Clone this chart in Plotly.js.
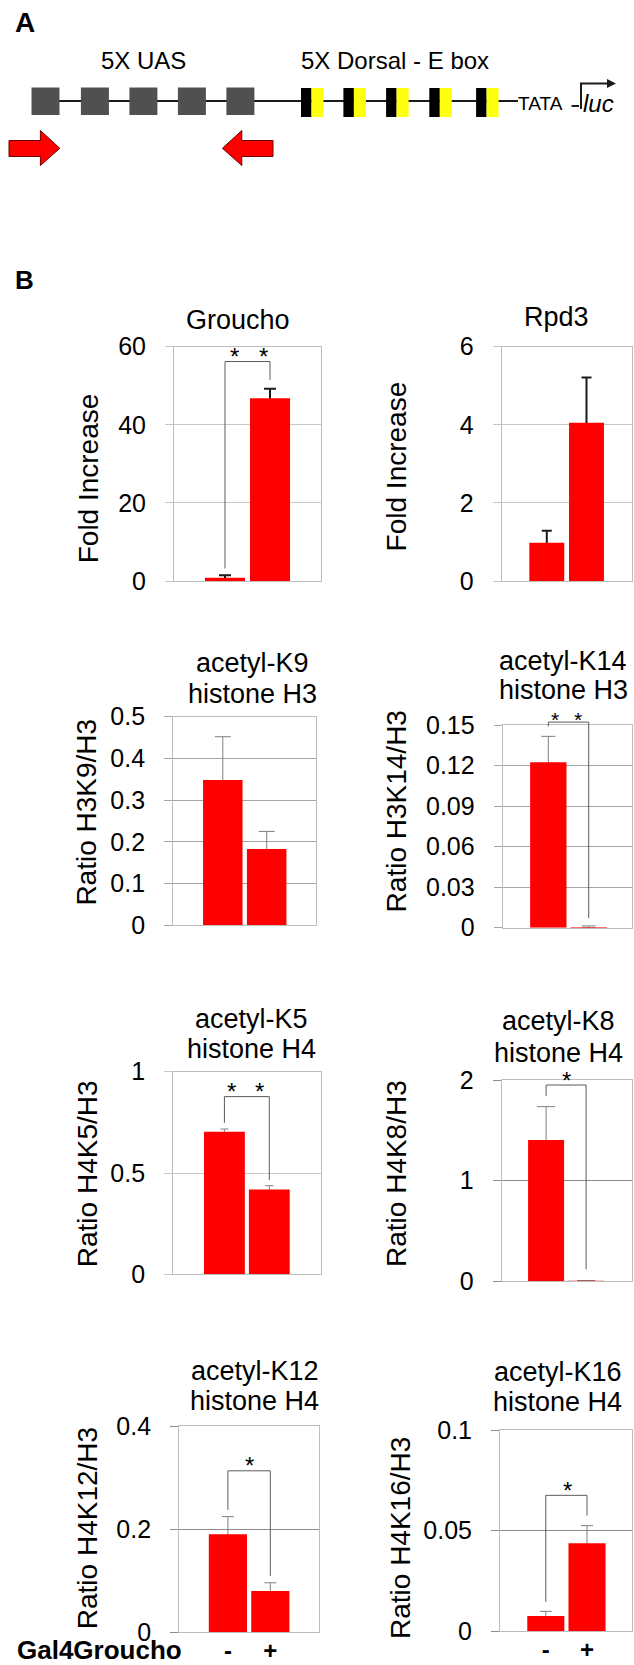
<!DOCTYPE html>
<html>
<head>
<meta charset="utf-8">
<script src="https://cdn.plot.ly/plotly-3.0.1.min.js"></script>
<style>
  html, body { margin: 0; padding: 0; background: #ffffff; }
  #chart { width: 634px; height: 1665px; }
</style>
</head>
<body>
<div id="chart"></div>
<script>
// ------------------------------------------------------------------
// DATA
// ------------------------------------------------------------------
const conditions = ['-', '+'];           // Gal4Groucho absent / present
const xAxisLabel = 'Gal4Groucho';

const chartTitles = [
  'Groucho',
  'Rpd3',
  'acetyl-K9<br>histone H3',
  'acetyl-K14<br>histone H3',
  'acetyl-K5<br>histone H4',
  'acetyl-K8<br>histone H4',
  'acetyl-K12<br>histone H4',
  'acetyl-K16<br>histone H4'
];
const yTitles = [
  'Fold Increase', 'Fold Increase',
  'Ratio H3K9/H3', 'Ratio H3K14/H3',
  'Ratio H4K5/H3', 'Ratio H4K8/H3',
  'Ratio H4K12/H3', 'Ratio H4K16/H3'
];

const grouchoValues = [0.85, 46.8];     const grouchoErrors = [0.65, 2.4];
const rpd3Values    = [0.98, 4.05];     const rpd3Errors    = [0.31, 1.16];
const h3k9Values    = [0.348, 0.183];   const h3k9Errors    = [0.104, 0.042];
const h3k14Values   = [0.1224, 0.0006]; const h3k14Errors   = [0.0192, 0.0007];
const h4k5Values    = [0.704, 0.419];   const h4k5Errors    = [0.013, 0.0185];
const h4k8Values    = [1.403, 0.003];   const h4k8Errors    = [0.332, 0.002];
const h4k12Values   = [0.190, 0.0796];  const h4k12Errors   = [0.034, 0.016];
const h4k16Values   = [0.0075, 0.0437]; const h4k16Errors   = [0.0023, 0.0088];

const seriesValues = [grouchoValues, rpd3Values, h3k9Values, h3k14Values,
                      h4k5Values, h4k8Values, h4k12Values, h4k16Values];
const seriesErrors = [grouchoErrors, rpd3Errors, h3k9Errors, h3k14Errors,
                      h4k5Errors, h4k8Errors, h4k12Errors, h4k16Errors];

const yMax  = [60, 6, 0.5, 0.15, 1, 2, 0.4, 0.1];
const yStep = [20, 2, 0.1, 0.03, 0.5, 1, 0.2, 0.05];

// significance mark (number of asterisks) per chart
const significanceStars = [2, 0, 0, 2, 2, 1, 1, 1];

// ------------------------------------------------------------------
// LAYOUT / STYLE (pixel geometry of the figure, not data)
// ------------------------------------------------------------------
const W = 634, H = 1665;
const FONT = 'Arial, "Liberation Sans", Helvetica, sans-serif';
const fx = x => x / W;
const fy = y => 1 - y / H;

const panels = [
  {l:174,   r:321,   t:346.7,  b:581,    tx:238,   ty:[320],           yt:[88.3,478],    xr:[-1.133,2.133], bw:0.89, grid:'#c8c8c8', err:'#1a1a1a', et:2, cap:6},
  {l:501.7, r:631.7, t:346.7,  b:581,    tx:556,   ty:[317],           yt:[396.7,466.7], xr:[-1.136,2.139], bw:0.88, grid:'#c8c8c8', err:'#1a1a1a', et:2, cap:5},
  {l:173.1, r:316.2, t:716.7,  b:925.3,  tx:252.7, ty:[662.5,694],     yt:[86.9,811.7],  xr:[-1.132,2.128], bw:0.9,  grid:'#a6a6a6', err:'#7f7f7f', et:1, cap:8},
  {l:502.7, r:631.7, t:725,    b:927.7,  tx:563.3, ty:[661.5,689.5],   yt:[396.7,811.7], xr:[-1.129,2.064], bw:0.9,  grid:'#a6a6a6', err:'#7f7f7f', et:1, cap:7},
  {l:173.1, r:320.7, t:1071.7, b:1274.3, tx:251.5, ty:[1018.5,1049],   yt:[86.9,1173.3], xr:[-1.143,2.145], bw:0.91, grid:'#c8c8c8', err:'#7f7f7f', et:1, cap:4},
  {l:501.7, r:631.7, t:1080,   b:1281,   tx:558.3, ty:[1020.5,1053],   yt:[396.7,1173.3],xr:[-1.11,2.14],   bw:0.9,  grid:'#8c8c8c', err:'#7f7f7f', et:1, cap:9},
  {l:179.1, r:319.4, t:1426,   b:1632,   tx:254.7, ty:[1370.5,1400.5], yt:[86.9,1528.3], xr:[-1.151,2.158], bw:0.9,  grid:'#8c8c8c', err:'#7f7f7f', et:1, cap:6},
  {l:500,   r:631.7, t:1430.3, b:1631,   tx:557.7, ty:[1372,1402],     yt:[400,1538],    xr:[-1.112,2.085], bw:0.9,  grid:'#8c8c8c', err:'#7f7f7f', et:1, cap:6}
];
const FRAME = '#bdbdbd';

// significance bracket geometry (left leg bottom, top, right leg bottom; asterisk x positions)
const brackets = {
  0: {yl:3.2,    yt:56.2,   yr:51.5,   sx:[0.22, 0.85], shift:0, ss:24, so:5},
  3: {yl:0.1468, yt:0.1499, yr:0.0049, sx:[0.17, 0.74], shift:3, ss:21, so:3},
  4: {yl:0.748,  yt:0.877,  yr:0.465,  sx:[0.16, 0.79], shift:0, ss:24, so:5},
  5: {yl:1.84,   yt:1.95,   yr:0.116,  sx:[0.5],        shift:0, ss:24, so:5},
  6: {yl:0.237,  yt:0.313,  yr:0.109,  sx:[0.5],        shift:0, ss:24, so:5},
  7: {yl:0.0146, yt:0.0676, yr:0.0575, sx:[0.53],       shift:0, ss:24, so:5}
};

const traces = [];
const annotations = [];
const shapes = [];
const layout = {
  width: W, height: H,
  margin: {l:0, r:0, t:0, b:0},
  paper_bgcolor: '#ffffff',
  plot_bgcolor: 'rgba(0,0,0,0)',
  showlegend: false,
  barmode: 'overlay',
  font: {family: FONT, color: '#000000'},
  annotations: annotations,
  shapes: shapes
};

function textAnn(txt, x, y, size, extra) {
  return Object.assign({
    xref: 'paper', yref: 'paper', x: fx(x), y: fy(y),
    text: txt, showarrow: false, xanchor: 'center', yanchor: 'middle',
    font: {family: FONT, size: size, color: '#000000'}
  }, extra || {});
}

panels.forEach((p, i) => {
  const sfx = i === 0 ? '' : String(i + 1);
  const xa = 'x' + sfx, ya = 'y' + sfx;
  const bottomRow = i >= 6;

  // error bars (upper half visible; lower half hidden behind the bar drawn next)
  traces.push({
    type: 'bar',
    x: conditions,
    y: seriesValues[i],
    xaxis: xa, yaxis: ya,
    width: p.bw,
    marker: {color: 'rgba(255,0,0,0)', line: {width: 0}},
    error_y: {
      type: 'data', symmetric: true,
      array: seriesErrors[i],
      color: p.err, thickness: p.et, width: p.cap
    },
    hoverinfo: 'skip'
  });
  // bars
  traces.push({
    type: 'bar',
    x: conditions,
    y: seriesValues[i],
    xaxis: xa, yaxis: ya,
    width: p.bw,
    marker: {color: '#ff0000', line: {width: 0}},
    hoverinfo: 'skip'
  });

  const nT = Math.round(yMax[i] / yStep[i]);
  const tickvals = [];
  for (let k = 0; k <= nT; k++) tickvals.push(+(k * yStep[i]).toFixed(6));

  layout['xaxis' + sfx] = {
    domain: [fx(p.l), fx(p.r)],
    anchor: ya,
    type: 'category',
    range: p.xr,
    showline: true, mirror: true, linecolor: FRAME, linewidth: 1,
    showgrid: false, zeroline: false, ticks: '',
    showticklabels: bottomRow,
    tickfont: {family: FONT, size: 24, color: '#000000', weight: 'bold'},
    ticklabelstandoff: -3,
    fixedrange: true
  };
  layout['yaxis' + sfx] = {
    domain: [fy(p.b), fy(p.t)],
    anchor: xa,
    range: [0, yMax[i]],
    tickvals: tickvals,
    showline: true, mirror: true, linecolor: FRAME, linewidth: 1,
    showgrid: true, gridcolor: p.grid, gridwidth: 1,
    zeroline: false,
    ticks: 'outside', ticklen: 8, tickcolor: p.grid, tickwidth: 1,
    tickfont: {family: FONT, size: 25, color: '#000000'},
    ticklabelstandoff: 14,
    fixedrange: true
  };

  // chart title (one annotation per line for tight line spacing)
  chartTitles[i].split('<br>').forEach((line, k) => {
    annotations.push(textAnn(line, p.tx, p.ty[k], 27));
  });
  // y-axis title
  annotations.push(textAnn(yTitles[i], p.yt[0], p.yt[1], 28, {textangle: -90}));

  // significance bracket
  const br = brackets[i];
  if (br && significanceStars[i] > 0) {
    const seg = (x0, y0, x1, y1) => ({
      xref: xa, yref: ya, axref: xa, ayref: ya,
      x: x1, y: y1, ax: x0, ay: y0,
      text: '', showarrow: true, arrowhead: 0, arrowwidth: 1,
      arrowcolor: '#5a5a5a', standoff: 0, startstandoff: 0,
      borderpad: 0, borderwidth: 0, font: {size: 1},
      yshift: br.shift
    });
    annotations.push(seg(0, br.yt, 0, br.yl));
    annotations.push(seg(0, br.yt, 1, br.yt));
    annotations.push(seg(1, br.yt, 1, br.yr));
    br.sx.slice(0, significanceStars[i]).forEach(sx => {
      annotations.push({
        xref: xa, yref: ya, x: sx, y: br.yt,
        text: '*', showarrow: false,
        xanchor: 'center', yanchor: 'middle', yshift: br.shift + br.so,
        borderpad: 0, borderwidth: 0,
        font: {family: FONT, size: br.ss, color: '#000000'}
      });
    });
  }
});

// x-axis label of the bottom row
annotations.push(textAnn('<b>' + xAxisLabel + '</b>', 99, 1665, 26,
  {yanchor: 'bottom', borderpad: 0, borderwidth: 0}));

// panel letters
annotations.push(textAnn('<b>A</b>', 25, 22.5, 28));
annotations.push(textAnn('<b>B</b>', 24.3, 280, 26));

// ------------------------------------------------------------------
// PANEL A: reporter construct diagram (pixel-space helper axes)
// ------------------------------------------------------------------
layout.xaxis9 = {domain: [0, 1], range: [0, W], visible: false, fixedrange: true, anchor: 'y9'};
layout.yaxis9 = {domain: [fy(175), 1], range: [175, 0], visible: false, fixedrange: true, anchor: 'x9'};
traces.push({type: 'scatter', x: [], y: [], xaxis: 'x9', yaxis: 'y9', hoverinfo: 'skip', showlegend: false});

const d = (o) => Object.assign({xref: 'x9', yref: 'y9'}, o);
// backbone
shapes.push(d({type: 'line', x0: 45, x1: 518, y0: 101, y1: 101, line: {color: '#1a1a1a', width: 2}}));
// 5x UAS boxes
[31.5, 80.9, 129.4, 177.9, 226.4].forEach(s => {
  shapes.push(d({type: 'rect', x0: s, x1: s + 28, y0: 87.5, y1: 115, fillcolor: '#505050', line: {width: 0}}));
});
// 5x Dorsal - E box sites
[301, 343.4, 386.1, 429.3, 476.1].forEach(s => {
  shapes.push(d({type: 'rect', x0: s, x1: s + 10.5, y0: 88, y1: 117, fillcolor: '#000000', line: {width: 0}}));
  shapes.push(d({type: 'rect', x0: s + 10.5, x1: s + 22.5, y0: 88, y1: 117, fillcolor: '#ffff10', line: {width: 0}}));
});
// transcription start arrow
shapes.push(d({type: 'line', x0: 571.5, x1: 579, y0: 106, y1: 106, line: {color: '#1a1a1a', width: 2}}));
shapes.push(d({type: 'path', path: 'M 581 109 L 581 83.5 L 609 83.5', line: {color: '#1a1a1a', width: 2}}));
shapes.push(d({type: 'path', path: 'M 607 79 L 616 83.5 L 607 88 Z', fillcolor: '#1a1a1a', line: {width: 0}}));
// primer arrows
shapes.push(d({type: 'path',
  path: 'M 9 140.5 L 40.4 140.5 L 40.4 130.5 L 59.8 148.3 L 40.4 165.5 L 40.4 156.5 L 9 156.5 Z',
  fillcolor: '#ff0000', line: {color: '#6b0000', width: 1}}));
shapes.push(d({type: 'path',
  path: 'M 273 140.5 L 241.8 140.5 L 241.8 130.5 L 222.4 148.3 L 241.8 165.5 L 241.8 156.5 L 273 156.5 Z',
  fillcolor: '#ff0000', line: {color: '#6b0000', width: 1}}));

annotations.push(textAnn('5X UAS', 143.6, 61, 24));
annotations.push(textAnn('5X Dorsal - E box', 395, 61, 24));
annotations.push(textAnn('TATA', 540, 104, 19));
annotations.push(textAnn('<i>luc</i>', 598.5, 103.4, 24));

Plotly.newPlot('chart', traces, layout, {staticPlot: true, displayModeBar: false});
</script>
</body>
</html>
